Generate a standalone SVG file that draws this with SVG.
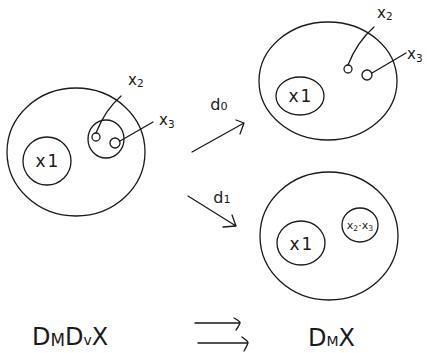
<svg xmlns="http://www.w3.org/2000/svg" width="427" height="353" viewBox="0 0 427 353">
<style>
.s{fill:none;stroke:#1a1a1a;stroke-width:1.3;stroke-linecap:round;stroke-linejoin:round}
.t{font-family:"DejaVu Sans","Liberation Sans",sans-serif;fill:#1a1a1a}
.sub{font-size:70%}
</style>
<rect width="427" height="353" fill="#fff"/>
<g id="left">
<ellipse class="s" cx="76" cy="152" rx="69" ry="64"/>
<g id="left-x1"><ellipse class="s" cx="47" cy="161" rx="24" ry="24"/><text class="t" x="47" y="167" font-size="17" text-anchor="middle">x<tspan dx="2">1</tspan></text></g>
<g id="left-x23"><ellipse class="s" cx="106" cy="139" rx="18" ry="19"/><circle class="s" cx="96" cy="137" r="4"/><circle class="s" cx="115" cy="143" r="5"/></g>
<text class="t" x="128" y="85" font-size="15">x<tspan class="sub" dy="2">2</tspan></text>
<text class="t" x="159" y="125" font-size="15">x<tspan class="sub" dy="3">3</tspan></text>
</g>
<g id="top-right">
<ellipse class="s" cx="328" cy="81" rx="69" ry="59"/>
<g id="tr-x1"><ellipse class="s" cx="300" cy="96" rx="24" ry="19"/><text class="t" x="300" y="102" font-size="17" text-anchor="middle">x<tspan dx="2">1</tspan></text></g>
<circle class="s" cx="348" cy="69" r="4"/>
<circle class="s" cx="367" cy="75" r="5"/>
<text class="t" x="377" y="18" font-size="15">x<tspan class="sub" dy="2">2</tspan></text>
<text class="t" x="407" y="59" font-size="15">x<tspan class="sub" dy="3">3</tspan></text>
</g>
<g id="bottom-right">
<ellipse class="s" cx="329" cy="236" rx="69" ry="64"/>
<g id="br-x1"><ellipse class="s" cx="301" cy="243" rx="24" ry="22"/><text class="t" x="301" y="250" font-size="17" text-anchor="middle">x<tspan dx="2">1</tspan></text></g>
<g id="br-x23"><ellipse class="s" cx="360" cy="225" rx="18" ry="17"/><text class="t" x="360" y="229" font-size="11" text-anchor="middle">x<tspan class="sub" dy="2">2</tspan><tspan dy="-2">·x</tspan><tspan class="sub" dy="2">3</tspan></text></g>
</g>
<g id="labels">
<text class="t" x="219" y="110" font-size="16" text-anchor="middle">d<tspan class="sub">0</tspan></text>
<text class="t" x="222" y="203" font-size="16" text-anchor="middle">d<tspan class="sub">1</tspan></text>
<text class="t" x="32" y="345" font-size="24">D<tspan class="sub" font-size="14" dy="1">M</tspan><tspan dy="-1">D</tspan><tspan font-size="14">v</tspan><tspan>X</tspan></text>
<text class="t" x="308" y="346" font-size="24">D<tspan font-size="14" dy="0">M</tspan><tspan>X</tspan></text>
</g>
<g id="connectors">
<path class="s" d="M96 133 Q105 110 121 96"/>
<path class="s" d="M120 141 L153 122"/>
<path class="s" d="M348 65 Q357 42 374 27"/>
<path class="s" d="M372 73 L406 53"/>
<path class="s" d="M192 152 L244 123 M236 120 L244 123 L240 134"/>
<path class="s" d="M188 196 L236 226 M232 215 L236 226 L223 227"/>
<path class="s" d="M195 323 L240 323 M234 318 Q241 322 240 323 Q239 326 236 330"/>
<path class="s" d="M198 343 L248 343 M242 337 Q249 342 248 343 Q247 346 244 351"/>
</g>
</svg>
